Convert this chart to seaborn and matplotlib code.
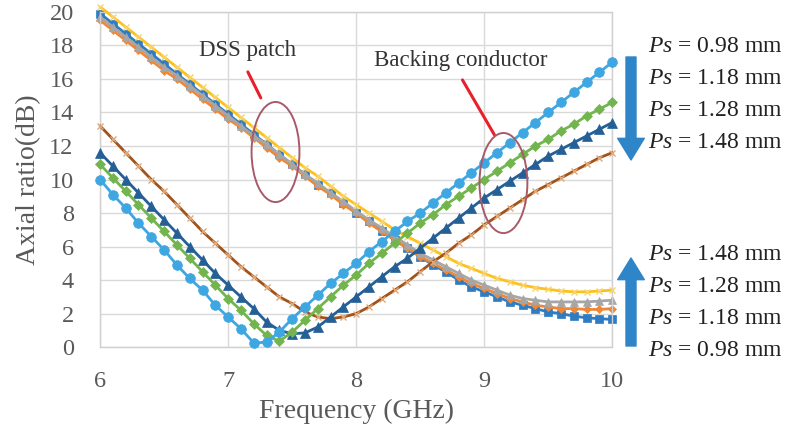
import numpy as np
import pandas as pd
import matplotlib
matplotlib.use("Agg")
import matplotlib.pyplot as plt
from matplotlib.patches import Ellipse
import seaborn as sns

# ---------------- data ----------------
freq = [round(6.0 + 0.1 * i, 1) for i in range(41)]

# Backing conductor curves
bc_098 = [10.0, 9.1, 8.3, 7.4, 6.6, 5.8, 4.9, 4.1, 3.4, 2.5, 1.8, 1.1, 0.25, 0.3, 0.9, 1.7, 2.4, 3.1, 3.8, 4.4,
          5.0, 5.7, 6.3, 6.9, 7.5, 8.0, 8.6, 9.2, 9.8, 10.4, 11.0, 11.6, 12.2, 12.8, 13.4, 14.0, 14.6, 15.2, 15.8, 16.4, 17.0]
bc_118 = [10.9, 10.1, 9.3, 8.5, 7.7, 6.9, 6.1, 5.3, 4.5, 3.7, 2.9, 2.2, 1.4, 0.7, 0.35, 0.9, 1.6, 2.3, 3.0, 3.7,
          4.3, 5.0, 5.6, 6.2, 6.8, 7.4, 7.9, 8.5, 9.0, 9.5, 10.0, 10.5, 11.0, 11.5, 12.0, 12.4, 12.9, 13.3, 13.8, 14.2, 14.6]
bc_128 = [11.6, 10.8, 10.0, 9.2, 8.4, 7.6, 6.8, 6.0, 5.2, 4.4, 3.7, 3.0, 2.3, 1.5, 1.0, 0.8, 0.85, 1.2, 1.8, 2.4,
          3.0, 3.6, 4.2, 4.8, 5.3, 5.9, 6.5, 7.1, 7.7, 8.3, 8.9, 9.4, 9.9, 10.4, 10.9, 11.4, 11.8, 12.2, 12.6, 13.0, 13.4]
bc_148 = [13.2, 12.4, 11.6, 10.8, 10.0, 9.3, 8.5, 7.7, 6.9, 6.2, 5.5, 4.8, 4.2, 3.6, 3.0, 2.6, 2.1, 1.8, 1.7, 1.8,
          2.0, 2.4, 2.9, 3.4, 3.9, 4.5, 5.1, 5.6, 6.2, 6.7, 7.3, 7.8, 8.3, 8.8, 9.3, 9.7, 10.1, 10.5, 10.9, 11.3, 11.6]

# DSS patch curves
dss_098 = [19.9, 19.3, 18.7, 18.1, 17.5, 16.9, 16.3, 15.7, 15.1, 14.5, 13.9, 13.3, 12.7, 12.1, 11.5, 10.9, 10.3, 9.7, 9.2, 8.6,
           8.0, 7.5, 6.9, 6.4, 5.9, 5.4, 4.9, 4.5, 4.0, 3.6, 3.3, 3.0, 2.7, 2.5, 2.3, 2.1, 2.0, 1.85, 1.75, 1.7, 1.65]
dss_118 = [19.5, 18.9, 18.3, 17.7, 17.1, 16.5, 16.0, 15.4, 14.8, 14.2, 13.6, 13.1, 12.5, 11.9, 11.3, 10.8, 10.2, 9.6, 9.1, 8.5,
           8.0, 7.4, 6.9, 6.4, 5.9, 5.4, 5.0, 4.6, 4.2, 3.8, 3.5, 3.2, 2.9, 2.7, 2.5, 2.4, 2.3, 2.3, 2.25, 2.25, 2.3]
dss_128 = [19.7, 19.1, 18.5, 17.9, 17.3, 16.7, 16.2, 15.6, 15.0, 14.4, 13.8, 13.2, 12.6, 12.1, 11.5, 10.9, 10.3, 9.8, 9.2, 8.7,
           8.1, 7.6, 7.1, 6.6, 6.1, 5.6, 5.2, 4.8, 4.4, 4.0, 3.7, 3.4, 3.1, 2.9, 2.8, 2.7, 2.7, 2.7, 2.7, 2.75, 2.8]
dss_148 = [20.3, 19.7, 19.1, 18.5, 17.9, 17.3, 16.7, 16.1, 15.5, 14.9, 14.3, 13.7, 13.1, 12.5, 11.9, 11.3, 10.7, 10.2, 9.6, 9.0,
           8.5, 8.0, 7.5, 7.0, 6.6, 6.2, 5.8, 5.4, 5.0, 4.7, 4.4, 4.1, 3.9, 3.7, 3.55, 3.45, 3.35, 3.3, 3.3, 3.35, 3.4]

x_ticks = [6, 7, 8, 9, 10]
y_ticks = list(range(0, 21, 2))
top_labels = ["0.98", "1.18", "1.28", "1.48"]
bottom_labels = ["1.48", "1.28", "1.18", "0.98"]

# ---------------- style ----------------
sns.set_theme(style="white")
plt.rcParams["font.family"] = ["Liberation Serif", "DejaVu Serif"]
plt.rcParams["mathtext.fontset"] = "custom"
plt.rcParams["mathtext.rm"] = "Liberation Serif"
plt.rcParams["mathtext.it"] = "Liberation Serif:italic"

fig = plt.figure(figsize=(7.88, 4.40), dpi=100)
ax = fig.add_axes([0.127, 0.211, 0.650, 0.762])

series = [
    (dss_098, "#2f7cc3", "s", 5.5, "#2f7cc3", 2),
    (dss_118, "#ee8838", "D", 4.5, "#ee8838", 2),
    (dss_128, "#a6a6a6", "^", 6.0, "#a6a6a6", 2),
    (dss_148, "#fcc21b", "x", 5.0, "#f6d36c", 3),
    (bc_148, "#a3521a", "x", 5.0, "#e0a878", 3),
    (bc_128, "#245f95", "^", 6.5, "#245f95", 4),
    (bc_118, "#72b54f", "D", 5.0, "#72b54f", 4),
    (bc_098, "#3ea6e0", "o", 7.0, "#3ea6e0", 5),
]
for vals, col, mk, ms, mec, z in series:
    df = pd.DataFrame({"f": freq, "ar": vals})
    sns.lineplot(data=df, x="f", y="ar", ax=ax, color=col, marker=mk, markersize=ms,
                 markeredgecolor=mec, markerfacecolor=col if mk != "x" else mec,
                 markeredgewidth=1.0 if mk == "x" else 0.5, linewidth=2.0,
                 zorder=z, clip_on=False)

ax.set_xlim(6, 10)
ax.set_ylim(0, 20)
ax.set_xticks(x_ticks)
ax.set_yticks(y_ticks)
ax.set_xticklabels([str(t) for t in x_ticks])
ax.set_yticklabels([str(t) for t in y_ticks])
ax.grid(True, color="#d9d9d9", linewidth=1.0)
ax.set_axisbelow(True)
for s in ax.spines.values():
    s.set_color("#d0d0d0")
    s.set_linewidth(1.0)
ax.tick_params(axis="y", length=0, labelsize=17.5, labelcolor="#595959", pad=19)
ax.tick_params(axis="x", length=0, labelsize=17.5, labelcolor="#595959", pad=17)
ax.set_xlabel("Frequency (GHz)", fontsize=20, color="#595959")
ax.set_ylabel("Axial ratio(dB)", fontsize=20, color="#595959")
ax.xaxis.set_label_coords(0.5, -0.155)
ax.yaxis.set_label_coords(-0.115, 0.5)

# annotations
ax.text(7.15, 17.7, "DSS patch", fontsize=16.5, color="#333333", ha="center", va="center")
ax.text(8.82, 17.1, "Backing conductor", fontsize=16.5, color="#333333", ha="center", va="center")
ax.plot([7.154, 7.255], [16.42, 14.87], color="#e8202a", linewidth=2.2, zorder=6)
ax.plot([8.83, 9.08], [15.94, 12.66], color="#e8202a", linewidth=2.2, zorder=6)
ax.add_patch(Ellipse((7.37, 11.64), 0.374, 5.97, fill=False, edgecolor="#a85a6a", linewidth=1.4, zorder=7))
ax.add_patch(Ellipse((9.15, 9.79), 0.374, 5.97, fill=False, edgecolor="#a85a6a", linewidth=1.4, zorder=7))

# right-side arrows and labels (figure pixel coords, origin bottom-left)
H = 440
arrow_col = "#2e86c8"
ax.annotate("", xy=(631, H - 160), xytext=(631, H - 57), xycoords="figure pixels",
            textcoords="figure pixels",
            arrowprops=dict(arrowstyle="simple,head_width=1.6,head_length=1.3,tail_width=0.6",
                            color=arrow_col, shrinkA=0, shrinkB=0))
ax.annotate("", xy=(631, H - 258), xytext=(631, H - 346), xycoords="figure pixels",
            textcoords="figure pixels",
            arrowprops=dict(arrowstyle="simple,head_width=1.6,head_length=1.3,tail_width=0.6",
                            color=arrow_col, shrinkA=0, shrinkB=0))

top_y = [46, 78, 110, 143]
bot_y = [254, 286, 318, 350]
for lab, yy in zip(top_labels, top_y):
    fig.text(648 / 788, 1 - yy / H, r"$\it{Ps}$ = " + lab + " mm", fontsize=17,
             color="#222222", ha="left", va="center")
for lab, yy in zip(bottom_labels, bot_y):
    fig.text(648 / 788, 1 - yy / H, r"$\it{Ps}$ = " + lab + " mm", fontsize=17,
             color="#222222", ha="left", va="center")

fig.savefig("out.png", dpi=100)
